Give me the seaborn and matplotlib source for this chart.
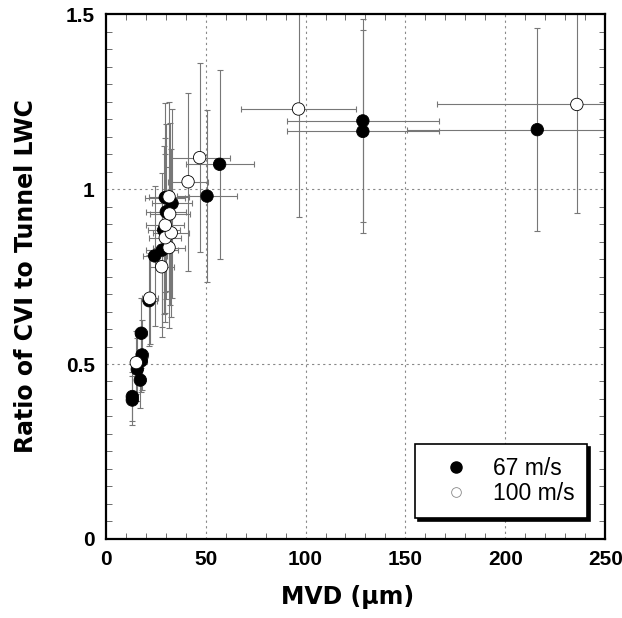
import numpy as np
import pandas as pd
import matplotlib
matplotlib.use("Agg")
import matplotlib.pyplot as plt
import seaborn as sns
from matplotlib.lines import Line2D

# --- data ---
mvd_67 = [13.3, 13.3, 17.3, 15.8, 17.8, 18.2, 17.8, 21.7, 24.5, 28.3, 29.0, 30.3, 29.8, 33.2, 50.7, 57.0, 128.7, 128.7, 216.0]
ratio_67 = [0.397, 0.407, 0.454, 0.485, 0.509, 0.526, 0.588, 0.681, 0.809, 0.826, 0.883, 0.935, 0.976, 0.959, 0.980, 1.071, 1.195, 1.165, 1.170]
xerr_67 = [2, 2, 2.5, 2.5, 3, 3, 3, 4, 6, 8, 8, 10, 10, 10, 15, 17, 38, 38, 65]
yerr_67 = [0.07, 0.07, 0.08, 0.09, 0.09, 0.10, 0.10, 0.13, 0.20, 0.22, 0.24, 0.25, 0.27, 0.27, 0.245, 0.27, 0.29, 0.29, 0.29]

mvd_100 = [15.3, 22.0, 28.0, 31.7, 29.8, 32.8, 29.8, 32.0, 31.7, 41.2, 47.0, 96.5, 235.8]
ratio_100 = [0.504, 0.688, 0.778, 0.833, 0.861, 0.875, 0.897, 0.929, 0.978, 1.021, 1.090, 1.229, 1.242]
xerr_100 = [2.5, 4, 6, 8, 8, 9, 9.5, 10, 10, 10, 15, 29, 70]
yerr_100 = [0.09, 0.13, 0.20, 0.23, 0.24, 0.24, 0.25, 0.26, 0.27, 0.255, 0.27, 0.31, 0.31]

speeds = ["67 m/s", "100 m/s"]
x_ticks = [0, 50, 100, 150, 200, 250]
y_ticks = [0, 0.5, 1.0, 1.5]
y_tick_labels = ["0", "0.5", "1", "1.5"]

df = pd.DataFrame({
    "MVD": mvd_67 + mvd_100,
    "ratio": ratio_67 + ratio_100,
    "xerr": xerr_67 + xerr_100,
    "yerr": yerr_67 + yerr_100,
    "speed": [speeds[0]] * len(mvd_67) + [speeds[1]] * len(mvd_100),
})

sns.set_style("white")
plt.rcParams["font.family"] = ["Liberation Sans", "DejaVu Sans"]
plt.rcParams["text.color"] = "black"
plt.rcParams["axes.labelcolor"] = "black"
plt.rcParams["xtick.color"] = "black"
plt.rcParams["ytick.color"] = "black"

fig = plt.figure(figsize=(6.22, 6.18), dpi=100)
ax = fig.add_axes([0.170, 0.128, 0.803, 0.849])

# grid
for gx in [50, 100, 150, 200]:
    ax.axvline(gx, color="#888888", lw=0.8, ls=(0, (2, 3)), zorder=0)
for gy in [0.5, 1.0]:
    ax.axhline(gy, color="#888888", lw=0.8, ls=(0, (2, 3)), zorder=0)

# error bars
ax.errorbar(df["MVD"], df["ratio"], xerr=df["xerr"], yerr=df["yerr"],
            fmt="none", ecolor="#777777", elinewidth=0.8, capsize=2.5,
            capthick=0.8, zorder=1)

sns.scatterplot(data=df, x="MVD", y="ratio", hue="speed", hue_order=speeds,
                palette={speeds[0]: "black", speeds[1]: "white"},
                edgecolor="black", linewidth=0.6, s=80, ax=ax, zorder=3,
                legend=False)

ax.set_xlim(0, 250)
ax.set_ylim(0, 1.5)
ax.set_xticks(x_ticks)
ax.set_yticks(y_ticks)
ax.set_yticklabels(y_tick_labels)
ax.set_xticks(np.arange(0, 251, 10), minor=True)
ax.set_yticks(np.arange(0, 1.501, 0.05), minor=True)
ax.tick_params(which="major", direction="in", length=0, labelsize=15, pad=8,
               labelcolor="black")
ax.tick_params(which="minor", direction="in", length=4, width=0.6,
               top=True, right=True, bottom=True, left=True, color="#555555")
for lab in ax.get_xticklabels() + ax.get_yticklabels():
    lab.set_fontweight("bold")

for sp in ax.spines.values():
    sp.set_visible(True)
    sp.set_color("black")
    sp.set_linewidth(1.6)

label_family = ["DejaVu Sans"]
ax.set_xlabel("MVD (\u03bcm)", fontsize=17, fontweight="bold", labelpad=11,
              family=label_family, color="black")
ax.set_ylabel("Ratio of CVI to Tunnel LWC", fontsize=17, fontweight="bold",
              labelpad=20, family=label_family, color="black")
ax.xaxis.set_label_coords(0.485, -0.088)

handles = [
    Line2D([], [], marker="o", ls="none", markerfacecolor="black",
           markeredgecolor="black", markersize=8),
    Line2D([], [], marker="o", ls="none", markerfacecolor="white",
           markeredgecolor="#888888", markeredgewidth=0.6, markersize=7),
]
leg = ax.legend(handles, speeds, loc="lower right", bbox_to_anchor=(0.964, 0.04),
                borderaxespad=0, frameon=True, fancybox=False,
                shadow={"color": "black", "alpha": 1}, fontsize=16.5,
                handletextpad=0.35, borderpad=0.55, labelspacing=0.12,
                handlelength=2.5)
leg.get_frame().set_edgecolor("black")
leg.get_frame().set_linewidth(1.2)
leg.set_zorder(10)

fig.savefig("out.png", dpi=100)
